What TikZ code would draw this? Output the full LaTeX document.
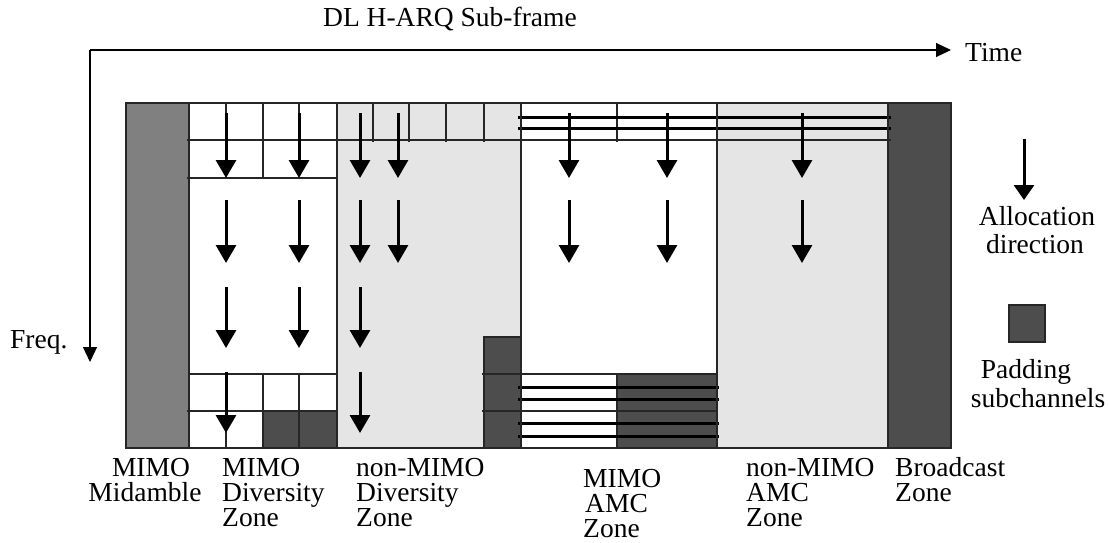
\documentclass[tikz,border=0pt]{standalone}
\usepackage{fontspec}
\setmainfont{Liberation Serif}
\usetikzlibrary{arrows.meta}
\definecolor{lightz}{HTML}{E5E5E5}
\definecolor{midz}{HTML}{808080}
\definecolor{darkz}{HTML}{4D4D4D}
\begin{document}
\begin{tikzpicture}[x=1pt,y=-1pt,
 thingrid/.style={line width=1.6pt, draw=black!85},
 thickgrid/.style={line width=3pt, draw=black},
 alloc/.style={line width=3pt, -{Triangle[width=20pt,length=18pt]}},
 axisarrow/.style={line width=1.2pt, -{Triangle[width=14pt,length=15pt]}},
 lbl/.style={font=\fontsize{27.5}{30}\selectfont, inner sep=0pt, anchor=base west},
 lblc/.style={font=\fontsize{27.5}{30}\selectfont, inner sep=0pt, anchor=base},
]
\fill[white] (0,0) rectangle (1109,542);
\useasboundingbox (0,0) rectangle (1109,542);

% zone fills
\fill[midz] (126,103) rectangle (189,448);
\fill[lightz] (337,103) rectangle (521,448);
\fill[lightz] (717,103) rectangle (888,448);
\fill[darkz] (888,103) rectangle (951,448);
\fill[darkz] (263,411) rectangle (337,448);
\fill[darkz] (484,337) rectangle (521,448);
\fill[darkz] (617,374) rectangle (717,448);

% top grid
\draw[thingrid] (187,140) -- (891,140);
\draw[thingrid] (187,178) -- (337,178);
\draw[thingrid] (226,103) -- (226,140);
\draw[thingrid] (263,103) -- (263,178);
\draw[thingrid] (299,103) -- (299,140);
\foreach \x in {373,409,446,484} \draw[thingrid] (\x,103) -- (\x,142);
\draw[thingrid] (617,103) -- (617,142);
\draw[thickgrid] (518,117) -- (891,117);
\draw[thickgrid] (518,128) -- (891,128);

% bottom grid
\draw[thingrid] (189,374) -- (337,374);
\draw[thingrid] (187,411) -- (337,411);
\foreach \x in {226,263,299} \draw[thingrid] (\x,374) -- (\x,448);
\draw[thingrid] (484,337) rectangle (521,448);
\draw[thingrid] (482,374) -- (717,374);
\draw[thingrid] (482,411) -- (717,411);
\draw[thingrid] (617,374) -- (617,448);
\foreach \y in {387,399,423,436} \draw[thickgrid] (518,\y) -- (719,\y);

% zone boundaries and frame
\foreach \x in {189,337,521,717,888} \draw[thingrid] (\x,103) -- (\x,448);
\draw[thingrid] (126,103) rectangle (951,448);

% allocation arrows
\foreach \x in {226,360} \foreach \a/\b in {113/178,200/263,287/348,372/433} \draw[alloc] (\x,\a) -- (\x,\b);
\foreach \a/\b in {113/178,200/263,287/348} \draw[alloc] (299,\a) -- (299,\b);
\foreach \x in {398,569,667,802} \foreach \a/\b in {113/178,200/263} \draw[alloc] (\x,\a) -- (\x,\b);

% axes
\coordinate (origin) at (90,50);
\coordinate (timeend) at (951,50);
\coordinate (freqend) at (90,362);
\draw[axisarrow] (origin) -- (timeend);
\draw[axisarrow] (origin) -- (freqend);
\node[lbl] (title) at (323,26) {DL H-ARQ Sub-frame};
\node[lbl] (time) at (965,61) {Time};
\node[lbl] (freq) at (10,348) {Freq.};

% legend
\coordinate (legtop) at (1024,139);
\coordinate (legtip) at (1024,200);
\draw[line width=3pt, -{Triangle[width=20pt,length=15pt]}] (legtop) -- (legtip);
\node[lblc] (alloc1) at (1037,225) {Allocation};
\node[lblc] (alloc2) at (1035,253) {direction};
\draw[thingrid, fill=darkz] (1009,305) rectangle (1045,342);
\node[lblc] (pad1) at (1026,378) {Padding};
\node[lblc] (pad2) at (1038,407) {subchannels};

% zone labels
\node[lblc] (mid1) at (151,476) {MIMO};
\node[lblc] (mid2) at (145,501) {Midamble};
\node[lbl] (md1) at (222,476) {MIMO};
\node[lbl] (md2) at (222,501) {Diversity};
\node[lbl] (md3) at (222,526) {Zone};
\node[lbl] (nd1) at (356,476) {non-MIMO};
\node[lbl] (nd2) at (356,501) {Diversity};
\node[lbl] (nd3) at (356,526) {Zone};
\node[lbl] (ma1) at (583,487) {MIMO};
\node[lbl] (ma2) at (585,512) {AMC};
\node[lbl] (ma3) at (583,537) {Zone};
\node[lbl] (na1) at (746,476) {non-MIMO};
\node[lbl] (na2) at (746,501) {AMC};
\node[lbl] (na3) at (746,526) {Zone};
\node[lbl] (bc1) at (895,476) {Broadcast};
\node[lbl] (bc2) at (895,501) {Zone};
\end{tikzpicture}
\end{document}
